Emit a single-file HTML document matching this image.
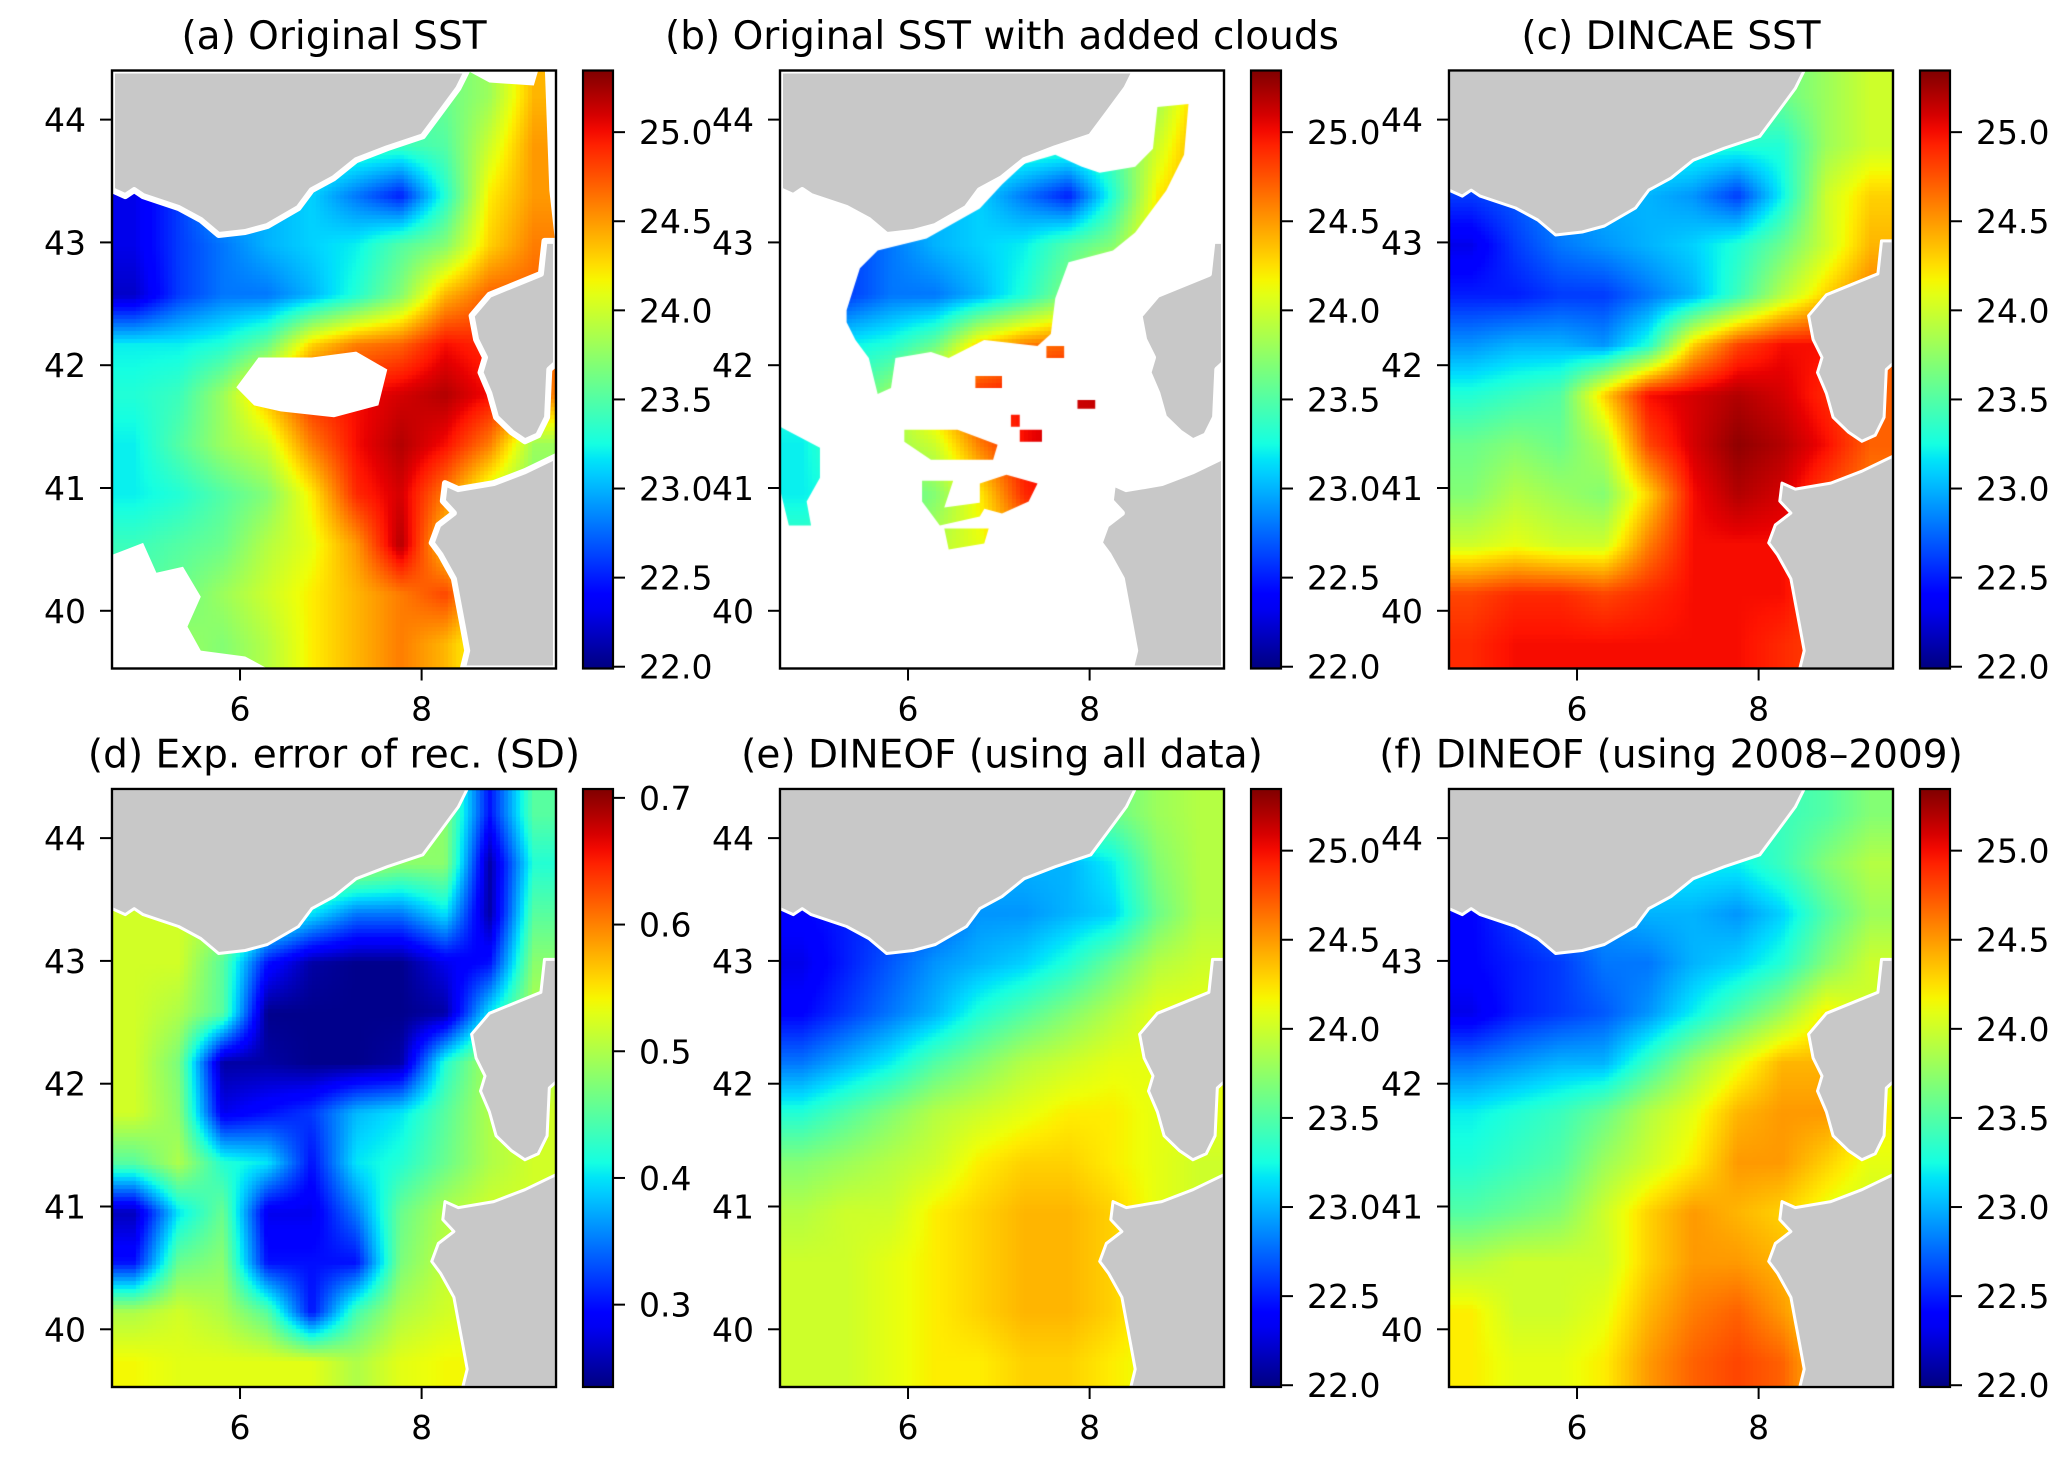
<!DOCTYPE html>
<html><head><meta charset="utf-8"><style>
html,body{margin:0;padding:0;background:#fff}
#wrap{position:relative;width:2067px;height:1457px;overflow:hidden;font-family:"DejaVu Sans","Liberation Sans",sans-serif}
canvas{position:absolute}
svg{position:absolute;left:0;top:0}
</style></head><body>
<div id="wrap">
<svg id="ov" width="2067" height="1457"></svg>
</div>
<script>
// ---- data: coarse grids (rows north->south, lat 44.4..39.53; cols west->east, lon 4.59..9.48) ----
const latTicks=[40,41,42,43,44];
const lonTicks=[6,8];
const sstTicks=[22.0,22.5,23.0,23.5,24.0,24.5,25.0];
const errTicks=[0.3,0.4,0.5,0.6,0.7];
const titles=["(a) Original SST","(b) Original SST with added clouds","(c) DINCAE SST","(d) Exp. error of rec. (SD)","(e) DINEOF (using all data)","(f) DINEOF (using 2008\u20132009)"];
const gridA=[
[23.5,23.5,23.5,23.5,23.5,23.5,23.5,23.6,23.8,24.4],
[23.4,23.4,23.4,23.4,23.4,23.4,23.4,23.5,24.0,24.5],
[22.3,22.6,23.0,23.0,23.1,22.8,22.5,23.3,24.2,24.5],
[22.3,22.6,22.8,23.0,23.1,23.2,23.5,23.7,24.3,24.6],
[22.2,22.6,22.8,22.8,23.0,23.3,23.7,24.4,24.7,24.7],
[23.2,23.2,23.3,23.6,24.3,24.6,24.7,25.0,24.9,24.7],
[23.3,23.4,23.8,24.4,24.9,25.0,25.1,25.2,25.0,24.6],
[23.2,23.5,23.8,24.0,24.6,25.0,25.2,25.0,24.6,23.8],
[23.2,23.3,23.5,23.7,24.2,24.9,25.1,24.6,24.0,23.7],
[23.4,23.5,23.6,23.9,24.1,24.5,25.2,24.3,24.0,24.0],
[23.5,23.6,23.8,24.0,24.2,24.4,24.6,24.8,24.3,24.0],
[23.8,23.8,23.7,23.9,24.2,24.4,24.6,24.4,24.0,24.0]];
const gridC=[
[23.6,23.6,23.6,23.6,23.6,23.6,23.6,23.6,23.8,24.0],
[23.3,23.3,23.3,23.3,23.3,23.3,23.3,23.3,23.8,24.0],
[22.6,22.7,22.9,23.0,23.0,22.9,22.6,23.2,24.0,24.3],
[22.3,22.6,22.8,22.9,23.0,23.1,23.3,23.6,24.0,24.4],
[22.5,22.5,22.6,22.6,22.8,23.0,23.4,23.9,24.3,24.6],
[22.9,23.0,23.0,22.9,23.3,24.3,24.8,25.0,25.0,24.7],
[23.3,23.4,23.5,24.3,25.0,25.1,25.2,25.1,24.9,24.7],
[23.6,23.7,23.6,23.9,24.8,25.1,25.3,25.2,25.0,24.7],
[23.7,23.9,23.8,23.7,24.3,25.0,25.2,25.1,24.8,24.6],
[24.0,24.1,24.0,24.0,24.6,25.0,25.0,25.0,24.8,24.5],
[24.8,24.9,24.9,24.8,24.9,25.0,25.0,25.0,24.8,24.5],
[24.9,25.0,25.0,25.0,25.0,25.0,25.0,24.9,24.8,24.5]];
const gridD=[
[0.50,0.50,0.50,0.50,0.50,0.50,0.50,0.48,0.30,0.45],
[0.50,0.50,0.50,0.50,0.50,0.50,0.48,0.48,0.25,0.42],
[0.52,0.52,0.50,0.45,0.40,0.35,0.35,0.40,0.25,0.45],
[0.52,0.52,0.45,0.30,0.25,0.24,0.24,0.28,0.30,0.48],
[0.52,0.50,0.45,0.24,0.24,0.24,0.24,0.25,0.40,0.50],
[0.52,0.47,0.25,0.25,0.24,0.24,0.25,0.42,0.50,0.50],
[0.52,0.48,0.28,0.30,0.32,0.38,0.40,0.45,0.50,0.52],
[0.45,0.50,0.42,0.40,0.30,0.40,0.42,0.46,0.50,0.52],
[0.26,0.40,0.46,0.28,0.28,0.35,0.46,0.50,0.52,0.52],
[0.30,0.46,0.48,0.30,0.30,0.30,0.47,0.51,0.52,0.52],
[0.50,0.52,0.50,0.45,0.30,0.44,0.50,0.52,0.53,0.53],
[0.54,0.53,0.53,0.53,0.53,0.50,0.53,0.54,0.54,0.54]];
const gridE=[
[23.6,23.6,23.6,23.6,23.6,23.6,23.6,23.6,23.8,23.9],
[23.0,23.0,23.0,23.0,23.0,23.0,23.0,23.2,23.7,23.9],
[22.4,22.5,22.6,22.7,22.9,22.9,23.0,23.1,23.6,23.9],
[22.3,22.5,22.7,22.9,23.0,23.1,23.3,23.6,23.9,24.0],
[22.4,22.6,22.8,23.0,23.3,23.5,23.7,23.9,24.1,24.1],
[22.8,23.0,23.2,23.5,23.7,23.9,24.0,24.1,24.1,24.1],
[23.3,23.5,23.7,23.9,24.0,24.1,24.2,24.2,24.1,24.1],
[23.7,23.8,23.9,24.0,24.2,24.3,24.3,24.2,24.1,24.0],
[23.9,24.0,24.0,24.2,24.3,24.4,24.4,24.3,24.1,24.0],
[24.0,24.0,24.1,24.2,24.3,24.4,24.4,24.3,24.1,24.0],
[24.0,24.0,24.1,24.2,24.3,24.4,24.4,24.3,24.1,24.0],
[24.0,24.0,24.1,24.2,24.2,24.3,24.3,24.2,24.1,24.0]];
const gridF=[
[23.4,23.4,23.4,23.4,23.4,23.4,23.4,23.4,23.5,23.7],
[23.2,23.2,23.2,23.2,23.2,23.2,23.2,23.4,23.7,23.9],
[22.4,22.6,22.8,22.9,23.0,23.0,22.9,23.1,23.5,23.8],
[22.4,22.5,22.6,22.8,22.8,23.0,23.1,23.3,23.7,24.0],
[22.3,22.5,22.6,22.7,22.9,23.2,23.5,23.8,24.2,24.0],
[22.8,22.9,23.0,23.0,23.4,23.8,24.1,24.4,24.4,24.0],
[23.2,23.3,23.4,23.6,23.9,24.1,24.4,24.5,24.5,24.2],
[23.3,23.4,23.5,23.8,24.0,24.2,24.5,24.5,24.3,24.1],
[23.5,23.6,23.7,24.0,24.3,24.5,24.4,24.3,24.1,24.0],
[23.9,24.0,24.0,24.0,24.3,24.5,24.5,24.4,24.2,24.0],
[24.2,24.0,24.0,24.1,24.4,24.6,24.7,24.5,24.2,24.0],
[24.2,24.1,24.1,24.2,24.5,24.7,24.8,24.7,24.3,24.0]];

// ---- geometry ----
const AX_L=[112,780,1449], AX_T=[70.5,789], AX_W=444, AX_H=598;
const LON0=4.59, LON1=9.48, LAT0=39.53, LAT1=44.40;
const SST_MIN=21.99, SST_MAX=25.346, ERR_MIN=0.235, ERR_MAX=0.707;
const LAND="#c8c8c8";
const france=[[0,0],[0.80,0],[0.78,0.03],[0.74,0.07],[0.70,0.11],[0.62,0.13],[0.55,0.15],[0.50,0.18],[0.45,0.20],[0.42,0.23],[0.35,0.26],[0.30,0.27],[0.24,0.275],[0.20,0.25],[0.15,0.23],[0.07,0.21],[0.05,0.20],[0.03,0.21],[0,0.20]];
const corsica=[[1,0.285],[0.974,0.285],[0.966,0.34],[0.85,0.375],[0.81,0.41],[0.82,0.45],[0.84,0.48],[0.83,0.505],[0.85,0.54],[0.865,0.58],[0.90,0.605],[0.93,0.62],[0.96,0.61],[0.98,0.58],[0.985,0.50],[1,0.49]];
const sardinia=[[1,0.645],[0.93,0.67],[0.86,0.69],[0.78,0.70],[0.75,0.69],[0.745,0.72],[0.77,0.74],[0.735,0.76],[0.72,0.79],[0.74,0.81],[0.77,0.85],[0.78,0.89],[0.79,0.93],[0.80,0.97],[0.79,1],[1,1]];
const cloudsA=[
[[0.28,0.53],[0.33,0.48],[0.45,0.48],[0.55,0.47],[0.62,0.50],[0.60,0.56],[0.50,0.58],[0.38,0.57],[0.32,0.56]],
[[0,0.81],[0.07,0.79],[0.10,0.84],[0.16,0.83],[0.20,0.88],[0.17,0.93],[0.20,0.97],[0.30,0.98],[0.35,1],[0,1]],
[[0.975,0],[1,0],[1,0.30],[0.985,0.2]],
[[0.80,0],[0.96,0],[0.95,0.025],[0.85,0.02]]];
const patchesB=[
[[0.15,0.40],[0.18,0.33],[0.22,0.30],[0.33,0.28],[0.45,0.23],[0.5,0.19],[0.55,0.155],[0.62,0.14],[0.68,0.16],[0.72,0.17],[0.8,0.16],[0.84,0.13],[0.85,0.06],[0.92,0.055],[0.91,0.14],[0.87,0.20],[0.84,0.23],[0.8,0.27],[0.75,0.30],[0.65,0.32],[0.62,0.38],[0.61,0.44],[0.58,0.46],[0.46,0.45],[0.38,0.48],[0.34,0.47],[0.26,0.48],[0.25,0.53],[0.22,0.54],[0.2,0.48],[0.17,0.45],[0.15,0.42]],
[[0,0.595],[0.09,0.63],[0.09,0.68],[0.06,0.72],[0.07,0.76],[0.02,0.76],[0,0.70]],
[[0.28,0.60],[0.40,0.60],[0.49,0.625],[0.48,0.65],[0.34,0.65],[0.28,0.62]],
[[0.45,0.69],[0.51,0.675],[0.58,0.69],[0.56,0.72],[0.50,0.74],[0.45,0.73]],
[[0.32,0.685],[0.39,0.685],[0.37,0.73],[0.47,0.72],[0.45,0.745],[0.36,0.76],[0.32,0.72]],
[[0.37,0.765],[0.47,0.765],[0.46,0.79],[0.38,0.80]],
[[0.44,0.51],[0.50,0.51],[0.50,0.53],[0.44,0.53]],
[[0.52,0.575],[0.54,0.575],[0.54,0.595],[0.52,0.595]],
[[0.54,0.60],[0.59,0.60],[0.59,0.62],[0.54,0.62]],
[[0.67,0.55],[0.71,0.55],[0.71,0.565],[0.67,0.565]],
[[0.6,0.46],[0.64,0.46],[0.64,0.48],[0.6,0.48]]];

function lerpTab(t,xs,ys){for(let i=1;i<xs.length;i++){if(t<=xs[i]){const f=(t-xs[i-1])/(xs[i]-xs[i-1]);return ys[i-1]+f*(ys[i]-ys[i-1]);}}return ys[ys.length-1];}
function jet(t){t=Math.max(0,Math.min(1,t));
 return [lerpTab(t,[0,0.35,0.66,0.89,1],[0,0,1,1,0.5]),lerpTab(t,[0,0.125,0.375,0.64,0.91,1],[0,0,1,1,0,0]),lerpTab(t,[0,0.11,0.34,0.65,1],[0.5,1,1,0,0])].map(v=>Math.round(v*255));}
function sample(g,fx,fy){const R=g.length,C=g[0].length;
 let x=fx*C-0.5,y=fy*R-0.5;x=Math.max(0,Math.min(C-1,x));y=Math.max(0,Math.min(R-1,y));
 const x0=Math.floor(x),y0=Math.floor(y),x1=Math.min(C-1,x0+1),y1=Math.min(R-1,y0+1),dx=x-x0,dy=y-y0;
 return g[y0][x0]*(1-dx)*(1-dy)+g[y0][x1]*dx*(1-dy)+g[y1][x0]*(1-dx)*dy+g[y1][x1]*dx*dy;}
const wrap=document.getElementById('wrap');
function drawField(name,left,top,grid,vmin,vmax,clip){
 const cv=document.createElement('canvas');cv.width=AX_W;cv.height=AX_H;cv.style.left=left+'px';cv.style.top=top+'px';
 
 
 const ctx=cv.getContext('2d');
 if(clip){ctx.beginPath();clip.forEach(p=>{p.forEach((q,i)=>{const X=q[0]*AX_W,Y=q[1]*AX_H;i?ctx.lineTo(X,Y):ctx.moveTo(X,Y);});ctx.closePath();});ctx.clip();}
 const cell=4;
 for(let y=0;y<AX_H;y+=cell)for(let x=0;x<AX_W;x+=cell){
  const v=sample(grid,(x+cell/2)/AX_W,(y+cell/2)/AX_H);const c=jet((v-vmin)/(vmax-vmin));
  ctx.fillStyle='rgb('+c[0]+','+c[1]+','+c[2]+')';ctx.fillRect(x,y,cell,cell);}
 wrap.insertBefore(cv,wrap.firstChild);}
const NS="http://www.w3.org/2000/svg";const ov=document.getElementById('ov');
function el(tag,attrs,parent){const e=document.createElementNS(NS,tag);for(const k in attrs)e.setAttribute(k,attrs[k]);(parent||ov).appendChild(e);return e;}
function polyPts(p,l,t){return p.map(q=>(l+q[0]*AX_W).toFixed(1)+','+(t+q[1]*AX_H).toFixed(1)).join(' ');}
const defs=el('defs',{});const lg=el('linearGradient',{id:'jetg',x1:0,y1:1,x2:0,y2:0},defs);
for(let i=0;i<=40;i++){const c=jet(i/40);el('stop',{offset:(i/40),'stop-color':'rgb('+c.join(',')+')'},lg);}

const panels=[
 {grid:gridA,err:false,name:'original-sst'},
 {grid:gridA,err:false,name:'sst-with-clouds',clip:patchesB},
 {grid:gridC,err:false,name:'dincae-sst'},
 {grid:gridD,err:true,name:'expected-error'},
 {grid:gridE,err:false,name:'dineof-all-data'},
 {grid:gridF,err:false,name:'dineof-2008-2009'}];
const xOf=(lon,l)=>l+(lon-LON0)/(LON1-LON0)*AX_W;
const yOf=(lat,t)=>t+(LAT1-lat)/(LAT1-LAT0)*AX_H;
const FS=33;
panels.forEach((P,i)=>{
 const l=AX_L[i%3],t=AX_T[Math.floor(i/3)];
 const vmin=P.err?ERR_MIN:SST_MIN,vmax=P.err?ERR_MAX:SST_MAX;
 drawField(P.name+'-field',l,t,P.grid,vmin,vmax,P.clip);
 const g=el('g',{});
 const sw=(i<2)?6:3;
 if(i===0){cloudsA.forEach(c=>{const e=el('polygon',{points:polyPts(c,l,t),fill:'#fff'},g);});}
 [['france-land',france],['corsica-land',corsica],['sardinia-land',sardinia]].forEach(L=>{
  const e=el('polygon',{points:polyPts(L[1],l,t),fill:LAND,stroke:'#fff','stroke-width':sw,'stroke-linejoin':'round'},g);
  });
 el('rect',{x:l-10,y:t-10,width:AX_W+20,height:10,fill:'#fff'},g);
 el('rect',{x:l+AX_W,y:t-10,width:10,height:AX_H+20,fill:'#fff'},g);
 const fr=el('rect',{x:l,y:t,width:AX_W,height:AX_H,fill:'none',stroke:'#000','stroke-width':2.4},g);
 
 latTicks.forEach(v=>{const y=yOf(v,t);el('line',{x1:l-12,x2:l,y1:y,y2:y,stroke:'#000','stroke-width':2},g);
  const tx=el('text',{x:l-26,y:y+12,'text-anchor':'end','font-size':FS,fill:'#000'},g);tx.textContent=v;
  });
 lonTicks.forEach(v=>{const x=xOf(v,l);el('line',{x1:x,x2:x,y1:t+AX_H,y2:t+AX_H+12,stroke:'#000','stroke-width':2},g);
  const tx=el('text',{x:x,y:t+AX_H+52,'text-anchor':'middle','font-size':FS,fill:'#000'},g);tx.textContent=v;
  });
 const ti=el('text',{x:l+AX_W/2,y:t-21.5,'text-anchor':'middle','font-size':39,fill:'#000'},g);ti.textContent=titles[i];
 
 const cx=l+AX_W+27;
 const cb=el('rect',{x:cx,y:t,width:30,height:AX_H,fill:'url(#jetg)',stroke:'#000','stroke-width':2.2},g);
 
 (P.err?errTicks:sstTicks).forEach(v=>{const y=t+(vmax-v)/(vmax-vmin)*AX_H;
  el('line',{x1:cx+30,x2:cx+42,y1:y,y2:y,stroke:'#000','stroke-width':2},g);
  const tx=el('text',{x:cx+56,y:y+12,'font-size':FS,fill:'#000'},g);tx.textContent=v.toFixed(1);
  });
});
</script>
</body></html>
